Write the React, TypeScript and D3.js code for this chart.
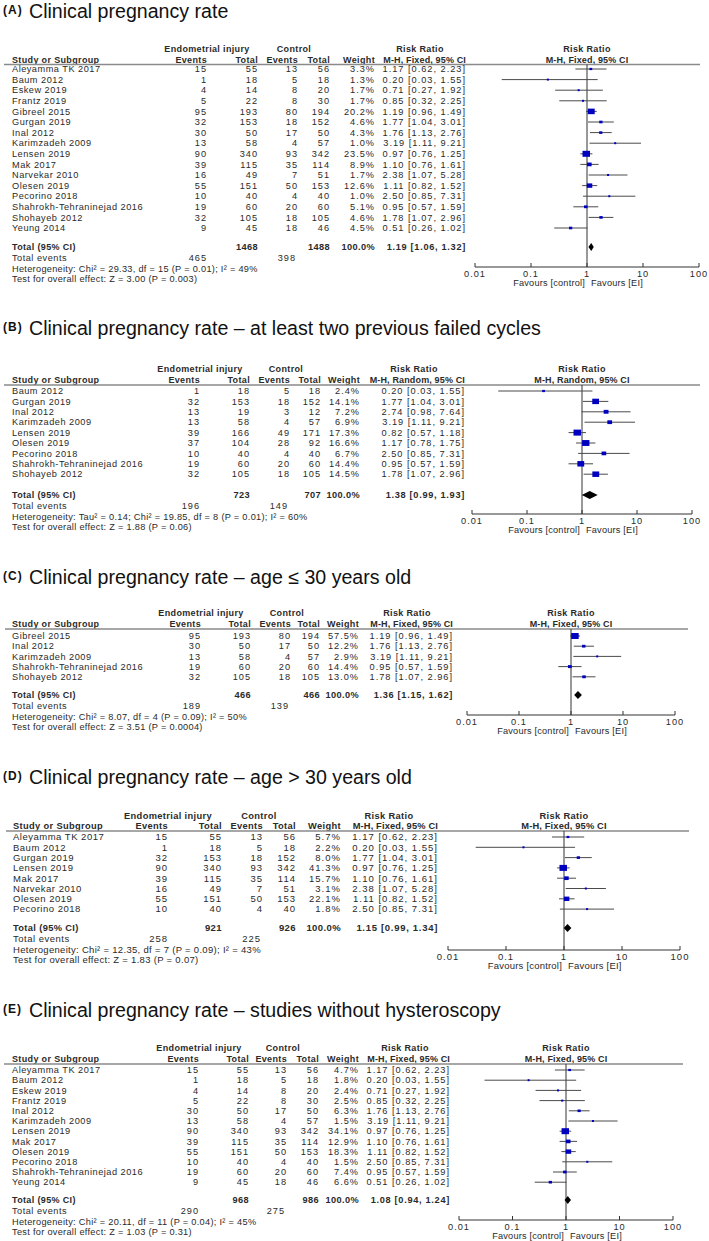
import React from "react";
import * as d3 from "d3";

// ---------- Panel A ----------
const aStudies = ["Aleyamma TK 2017", "Baum 2012", "Eskew 2019", "Frantz 2019", "Gibreel 2015", "Gurgan 2019", "Inal 2012", "Karimzadeh 2009", "Lensen 2019", "Mak 2017", "Narvekar 2010", "Olesen 2019", "Pecorino 2018", "Shahrokh-Tehraninejad 2016", "Shohayeb 2012", "Yeung 2014"];
const aEiEvents = [15, 1, 4, 5, 95, 32, 30, 13, 90, 39, 16, 55, 10, 19, 32, 9];
const aEiTotal = [55, 18, 14, 22, 193, 153, 50, 58, 340, 115, 49, 151, 40, 60, 105, 45];
const aCtrlEvents = [13, 5, 8, 8, 80, 18, 17, 4, 93, 35, 7, 50, 4, 20, 18, 18];
const aCtrlTotal = [56, 18, 20, 30, 194, 152, 50, 57, 342, 114, 51, 153, 40, 60, 105, 46];
const aWeights = [3.3, 1.3, 1.7, 1.7, 20.2, 4.6, 4.3, 1.0, 23.5, 8.9, 1.7, 12.6, 1.0, 5.1, 4.6, 4.5];
const aRR = [1.17, 0.2, 0.71, 0.85, 1.19, 1.77, 1.76, 3.19, 0.97, 1.1, 2.38, 1.11, 2.5, 0.95, 1.78, 0.51];
const aLower = [0.62, 0.03, 0.27, 0.32, 0.96, 1.04, 1.13, 1.11, 0.76, 0.76, 1.07, 0.82, 0.85, 0.57, 1.07, 0.26];
const aUpper = [2.23, 1.55, 1.92, 2.25, 1.49, 3.01, 2.76, 9.21, 1.25, 1.61, 5.28, 1.52, 7.31, 1.59, 2.96, 1.02];
const aTotals = [1468, 1488];
const aTotalEvents = [465, 398];
const aPooled = [1.19, 1.06, 1.32];
const aStats = ["Heterogeneity: Chi² = 29.33, df = 15 (P = 0.01); I² = 49%", "Test for overall effect: Z = 3.00 (P = 0.003)"];

// ---------- Panel B ----------
const bStudies = ["Baum 2012", "Gurgan 2019", "Inal 2012", "Karimzadeh 2009", "Lensen 2019", "Olesen 2019", "Pecorino 2018", "Shahrokh-Tehraninejad 2016", "Shohayeb 2012"];
const bEiEvents = [1, 32, 13, 13, 39, 37, 10, 19, 32];
const bEiTotal = [18, 153, 19, 58, 166, 104, 40, 60, 105];
const bCtrlEvents = [5, 18, 3, 4, 49, 28, 4, 20, 18];
const bCtrlTotal = [18, 152, 12, 57, 171, 92, 40, 60, 105];
const bWeights = [2.4, 14.1, 7.2, 6.9, 17.3, 16.6, 6.7, 14.4, 14.5];
const bRR = [0.2, 1.77, 2.74, 3.19, 0.82, 1.17, 2.5, 0.95, 1.78];
const bLower = [0.03, 1.04, 0.98, 1.11, 0.57, 0.78, 0.85, 0.57, 1.07];
const bUpper = [1.55, 3.01, 7.64, 9.21, 1.18, 1.75, 7.31, 1.59, 2.96];
const bTotals = [723, 707];
const bTotalEvents = [196, 149];
const bPooled = [1.38, 0.99, 1.93];
const bStats = ["Heterogeneity: Tau² = 0.14; Chi² = 19.85, df = 8 (P = 0.01); I² = 60%", "Test for overall effect: Z = 1.88 (P = 0.06)"];

// ---------- Panel C ----------
const cStudies = ["Gibreel 2015", "Inal 2012", "Karimzadeh 2009", "Shahrokh-Tehraninejad 2016", "Shohayeb 2012"];
const cEiEvents = [95, 30, 13, 19, 32];
const cEiTotal = [193, 50, 58, 60, 105];
const cCtrlEvents = [80, 17, 4, 20, 18];
const cCtrlTotal = [194, 50, 57, 60, 105];
const cWeights = [57.5, 12.2, 2.9, 14.4, 13.0];
const cRR = [1.19, 1.76, 3.19, 0.95, 1.78];
const cLower = [0.96, 1.13, 1.11, 0.57, 1.07];
const cUpper = [1.49, 2.76, 9.21, 1.59, 2.96];
const cTotals = [466, 466];
const cTotalEvents = [189, 139];
const cPooled = [1.36, 1.15, 1.62];
const cStats = ["Heterogeneity: Chi² = 8.07, df = 4 (P = 0.09); I² = 50%", "Test for overall effect: Z = 3.51 (P = 0.0004)"];

// ---------- Panel D ----------
const dStudies = ["Aleyamma TK 2017", "Baum 2012", "Gurgan 2019", "Lensen 2019", "Mak 2017", "Narvekar 2010", "Olesen 2019", "Pecorino 2018"];
const dEiEvents = [15, 1, 32, 90, 39, 16, 55, 10];
const dEiTotal = [55, 18, 153, 340, 115, 49, 151, 40];
const dCtrlEvents = [13, 5, 18, 93, 35, 7, 50, 4];
const dCtrlTotal = [56, 18, 152, 342, 114, 51, 153, 40];
const dWeights = [5.7, 2.2, 8.0, 41.3, 15.7, 3.1, 22.1, 1.8];
const dRR = [1.17, 0.2, 1.77, 0.97, 1.1, 2.38, 1.11, 2.5];
const dLower = [0.62, 0.03, 1.04, 0.76, 0.76, 1.07, 0.82, 0.85];
const dUpper = [2.23, 1.55, 3.01, 1.25, 1.61, 5.28, 1.52, 7.31];
const dTotals = [921, 926];
const dTotalEvents = [258, 225];
const dPooled = [1.15, 0.99, 1.34];
const dStats = ["Heterogeneity: Chi² = 12.35, df = 7 (P = 0.09); I² = 43%", "Test for overall effect: Z = 1.83 (P = 0.07)"];

// ---------- Panel E ----------
const eStudies = ["Aleyamma TK 2017", "Baum 2012", "Eskew 2019", "Frantz 2019", "Inal 2012", "Karimzadeh 2009", "Lensen 2019", "Mak 2017", "Olesen 2019", "Pecorino 2018", "Shahrokh-Tehraninejad 2016", "Yeung 2014"];
const eEiEvents = [15, 1, 4, 5, 30, 13, 90, 39, 55, 10, 19, 9];
const eEiTotal = [55, 18, 14, 22, 50, 58, 340, 115, 151, 40, 60, 45];
const eCtrlEvents = [13, 5, 8, 8, 17, 4, 93, 35, 50, 4, 20, 18];
const eCtrlTotal = [56, 18, 20, 30, 50, 57, 342, 114, 153, 40, 60, 46];
const eWeights = [4.7, 1.8, 2.4, 2.5, 6.3, 1.5, 34.1, 12.9, 18.3, 1.5, 7.4, 6.6];
const eRR = [1.17, 0.2, 0.71, 0.85, 1.76, 3.19, 0.97, 1.1, 1.11, 2.5, 0.95, 0.51];
const eLower = [0.62, 0.03, 0.27, 0.32, 1.13, 1.11, 0.76, 0.76, 0.82, 0.85, 0.57, 0.26];
const eUpper = [2.23, 1.55, 1.92, 2.25, 2.76, 9.21, 1.25, 1.61, 1.52, 7.31, 1.59, 1.02];
const eTotals = [968, 986];
const eTotalEvents = [290, 275];
const ePooled = [1.08, 0.94, 1.24];
const eStats = ["Heterogeneity: Chi² = 20.11, df = 11 (P = 0.04); I² = 45%", "Test for overall effect: Z = 1.03 (P = 0.31)"];

const axisTicks = [0.01, 0.1, 1, 10, 100];
const favours = ["Favours [control]", "Favours [EI]"];

const FONT = "Arial, 'Liberation Sans', Helvetica, sans-serif";
const TXT = "#2a2a2a";

type Layout = {
  letter: string; title: string; titleY: number;
  hdr1: number; hdr2: number; hdrLine: number; lineX0: number; lineX1: number;
  rowY0: number; rowStep: number; totalY: number;
  studyX: number; evE: number; totE: number; evC: number; totC: number; wt: number; rr: number; rrHdr: number;
  px0: number; px1: number; axisY: number; method: string; fs: number;
};

const layouts: Layout[] = [
  { letter: "(A)", title: "Clinical pregnancy rate", titleY: 18, hdr1: 49, hdr2: 60, hdrLine: 64.5, lineX0: 4, lineX1: 700, rowY0: 69, rowStep: 10.6, totalY: 247, studyX: 12, evE: 207, totE: 258, evC: 298, totC: 330, wt: 375, rr: 466, rrHdr: 420, px0: 475, px1: 699, axisY: 267, method: "Fixed", fs: 9.2 },
  { letter: "(B)", title: "Clinical pregnancy rate – at least two previous failed cycles", titleY: 335, hdr1: 369, hdr2: 380, hdrLine: 385, lineX0: 4, lineX1: 700, rowY0: 391, rowStep: 10.4, totalY: 495, studyX: 12, evE: 200, totE: 250, evC: 290, totC: 321, wt: 360, rr: 465, rrHdr: 414, px0: 472, px1: 692, axisY: 514, method: "Random", fs: 9.2 },
  { letter: "(C)", title: "Clinical pregnancy rate – age ≤ 30 years old", titleY: 584, hdr1: 613, hdr2: 624, hdrLine: 629, lineX0: 5, lineX1: 688, rowY0: 636, rowStep: 10.2, totalY: 695, studyX: 12, evE: 201, totE: 251, evC: 291, totC: 320, wt: 359, rr: 453, rrHdr: 407, px0: 467, px1: 675, axisY: 715, method: "Fixed", fs: 9.2 },
  { letter: "(D)", title: "Clinical pregnancy rate – age > 30 years old", titleY: 784, hdr1: 816, hdr2: 826, hdrLine: 831, lineX0: 6, lineX1: 689, rowY0: 837, rowStep: 10.3, totalY: 928, studyX: 13, evE: 168, totE: 222, evC: 263, totC: 296, wt: 341, rr: 438, rrHdr: 389, px0: 448, px1: 680, axisY: 950, method: "Fixed", fs: 9.5 },
  { letter: "(E)", title: "Clinical pregnancy rate – studies without hysteroscopy", titleY: 1017, hdr1: 1048, hdr2: 1059, hdrLine: 1064, lineX0: 4, lineX1: 683, rowY0: 1070, rowStep: 10.2, totalY: 1200, studyX: 12, evE: 199, totE: 249, evC: 287, totC: 319, wt: 359, rr: 450, rrHdr: 405, px0: 459, px1: 673, axisY: 1220, method: "Fixed", fs: 9.2 },
];

type PanelData = {
  studies: string[]; eiEv: number[]; eiTot: number[]; cEv: number[]; cTot: number[];
  wts: number[]; rr: number[]; lo: number[]; hi: number[];
  totals: number[]; totalEvents: number[]; pooled: number[]; stats: string[];
};

const panels: PanelData[] = [
  { studies: aStudies, eiEv: aEiEvents, eiTot: aEiTotal, cEv: aCtrlEvents, cTot: aCtrlTotal, wts: aWeights, rr: aRR, lo: aLower, hi: aUpper, totals: aTotals, totalEvents: aTotalEvents, pooled: aPooled, stats: aStats },
  { studies: bStudies, eiEv: bEiEvents, eiTot: bEiTotal, cEv: bCtrlEvents, cTot: bCtrlTotal, wts: bWeights, rr: bRR, lo: bLower, hi: bUpper, totals: bTotals, totalEvents: bTotalEvents, pooled: bPooled, stats: bStats },
  { studies: cStudies, eiEv: cEiEvents, eiTot: cEiTotal, cEv: cCtrlEvents, cTot: cCtrlTotal, wts: cWeights, rr: cRR, lo: cLower, hi: cUpper, totals: cTotals, totalEvents: cTotalEvents, pooled: cPooled, stats: cStats },
  { studies: dStudies, eiEv: dEiEvents, eiTot: dEiTotal, cEv: dCtrlEvents, cTot: dCtrlTotal, wts: dWeights, rr: dRR, lo: dLower, hi: dUpper, totals: dTotals, totalEvents: dTotalEvents, pooled: dPooled, stats: dStats },
  { studies: eStudies, eiEv: eEiEvents, eiTot: eEiTotal, cEv: eCtrlEvents, cTot: eCtrlTotal, wts: eWeights, rr: eRR, lo: eLower, hi: eUpper, totals: eTotals, totalEvents: eTotalEvents, pooled: ePooled, stats: eStats },
];

const f2 = d3.format(".2f");
const f1 = d3.format(".1f");
const ciText = (r: number, l: number, h: number) => `${f2(r)} [${f2(l)}, ${f2(h)}]`;

function Panel({ L, D }: { L: Layout; D: PanelData }) {
  const x = d3.scaleLog().domain([0.01, 100]).range([L.px0, L.px1]);
  const n = D.studies.length;
  const y = d3.scaleLinear().domain([0, n - 1]).range([L.rowY0, L.rowY0 + L.rowStep * (n - 1)]);
  const maxW = d3.max(D.wts) as number;
  const box = (w: number) => Math.max(2, 7.5 * Math.sqrt(w / maxW));
  const x1 = x(1);
  const base = { fontFamily: FONT, fontSize: L.fs, fill: TXT } as any;
  const nameS = { ...base, letterSpacing: 0.5 };
  const numS = { ...base, letterSpacing: 1.0 };
  const statS = { ...base, letterSpacing: 0.3 };
  const favS = { ...base, letterSpacing: 0.2 };
  const bold = { ...base, fontSize: L.fs - 0.2, fontWeight: 700, letterSpacing: 0.35 };
  const boldNum = { ...base, fontWeight: 700, letterSpacing: 0.4 };
  const method = `M-H, ${L.method}, 95% CI`;
  const dy = "0.35em";
  const [pr, pl, ph] = D.pooled;
  const dh = 4;
  return (
    <g>
      <text x={3} y={L.titleY - 4} style={{ fontFamily: FONT, fontSize: 12, fontWeight: 700, fill: "#111", letterSpacing: 1 }}>{L.letter}</text>
      <text x={29} y={L.titleY} style={{ fontFamily: FONT, fontSize: 19.6, fill: "#111" }}>{L.title}</text>

      {/* headers */}
      <text x={L.evE} y={L.hdr1} dy={dy} textAnchor="middle" style={bold}>Endometrial injury</text>
      <text x={L.evC - 4} y={L.hdr1} dy={dy} textAnchor="middle" style={bold}>Control</text>
      <text x={L.rrHdr} y={L.hdr1} dy={dy} textAnchor="middle" style={bold}>Risk Ratio</text>
      <text x={x1} y={L.hdr1} dy={dy} textAnchor="middle" style={bold}>Risk Ratio</text>
      <text x={L.studyX} y={L.hdr2} dy={dy} style={bold}>Study or Subgroup</text>
      <text x={L.evE} y={L.hdr2} dy={dy} textAnchor="end" style={bold}>Events</text>
      <text x={L.totE} y={L.hdr2} dy={dy} textAnchor="end" style={bold}>Total</text>
      <text x={L.evC} y={L.hdr2} dy={dy} textAnchor="end" style={bold}>Events</text>
      <text x={L.totC} y={L.hdr2} dy={dy} textAnchor="end" style={bold}>Total</text>
      <text x={L.wt} y={L.hdr2} dy={dy} textAnchor="end" style={bold}>Weight</text>
      <text x={L.rr} y={L.hdr2} dy={dy} textAnchor="end" style={{ ...bold, letterSpacing: 0.15 }}>{method}</text>
      <text x={x1} y={L.hdr2} dy={dy} textAnchor="middle" style={{ ...bold, letterSpacing: 0.15 }}>{method}</text>
      <line x1={L.lineX0} x2={L.lineX1} y1={L.hdrLine} y2={L.hdrLine} stroke="#8a8a8a" strokeWidth={1.6} />

      {/* vertical line of no effect */}
      <line x1={x1} x2={x1} y1={L.hdrLine} y2={L.axisY} stroke="#333" strokeWidth={1} />

      {/* rows */}
      {D.studies.map((s, i) => {
        const yy = y(i);
        const bw = box(D.wts[i]);
        const bh = Math.max(2, bw * 0.8);
        return (
          <g key={s}>
            <text x={L.studyX} y={yy} dy={dy} style={nameS}>{s}</text>
            <text x={L.evE} y={yy} dy={dy} textAnchor="end" style={numS}>{D.eiEv[i]}</text>
            <text x={L.totE} y={yy} dy={dy} textAnchor="end" style={numS}>{D.eiTot[i]}</text>
            <text x={L.evC} y={yy} dy={dy} textAnchor="end" style={numS}>{D.cEv[i]}</text>
            <text x={L.totC} y={yy} dy={dy} textAnchor="end" style={numS}>{D.cTot[i]}</text>
            <text x={L.wt} y={yy} dy={dy} textAnchor="end" style={numS}>{f1(D.wts[i])}%</text>
            <text x={L.rr} y={yy} dy={dy} textAnchor="end" style={numS}>{ciText(D.rr[i], D.lo[i], D.hi[i])}</text>
            <line x1={x(D.lo[i])} x2={x(D.hi[i])} y1={yy} y2={yy} stroke="#4a4a4a" strokeWidth={1} />
            <rect x={x(D.rr[i]) - bw / 2} y={yy - bh / 2} width={bw} height={bh} fill="#0000c0" />
          </g>
        );
      })}

      {/* total row */}
      <text x={L.studyX} y={L.totalY} dy={dy} style={bold}>Total (95% CI)</text>
      <text x={L.totE} y={L.totalY} dy={dy} textAnchor="end" style={boldNum}>{D.totals[0]}</text>
      <text x={L.totC} y={L.totalY} dy={dy} textAnchor="end" style={boldNum}>{D.totals[1]}</text>
      <text x={L.wt} y={L.totalY} dy={dy} textAnchor="end" style={boldNum}>100.0%</text>
      <text x={L.rr} y={L.totalY} dy={dy} textAnchor="end" style={{ ...boldNum, letterSpacing: 0.7 }}>{ciText(pr, pl, ph)}</text>
      <path d={`M${x(pl)},${L.totalY} L${x(pr)},${L.totalY - dh} L${x(ph)},${L.totalY} L${x(pr)},${L.totalY + dh} Z`} fill="#000" />

      <text x={L.studyX} y={L.totalY + 11} dy={dy} style={nameS}>Total events</text>
      <text x={L.evE} y={L.totalY + 11} dy={dy} textAnchor="end" style={numS}>{D.totalEvents[0]}</text>
      <text x={L.evC - 2} y={L.totalY + 11} dy={dy} textAnchor="end" style={numS}>{D.totalEvents[1]}</text>
      <text x={L.studyX} y={L.totalY + 21.5} dy={dy} style={statS}>{D.stats[0]}</text>
      <text x={L.studyX} y={L.totalY + 32} dy={dy} style={statS}>{D.stats[1]}</text>

      {/* axis */}
      <line x1={L.px0} x2={L.px1} y1={L.axisY} y2={L.axisY} stroke="#333" strokeWidth={1} />
      {axisTicks.map((t) => (
        <g key={t}>
          <line x1={x(t)} x2={x(t)} y1={L.axisY - 4} y2={L.axisY} stroke="#333" strokeWidth={1} />
          <text x={x(t)} y={L.axisY + 7} dy={dy} textAnchor="middle" style={numS}>{String(t)}</text>
        </g>
      ))}
      <text x={x1 - 2} y={L.axisY + 16} dy={dy} textAnchor="end" style={favS}>{favours[0]}</text>
      <text x={x1 + 4} y={L.axisY + 16} dy={dy} textAnchor="start" style={favS}>{favours[1]}</text>
    </g>
  );
}

export default function App() {
  return (
    <svg width={709} height={1241} viewBox="0 0 709 1241" style={{ position: "absolute", left: 0, top: 0, display: "block", background: "#fff" }}>
      <rect width={709} height={1241} fill="#fff" />
      {layouts.map((L, i) => (
        <Panel key={L.letter} L={L} D={panels[i]} />
      ))}
    </svg>
  );
}
